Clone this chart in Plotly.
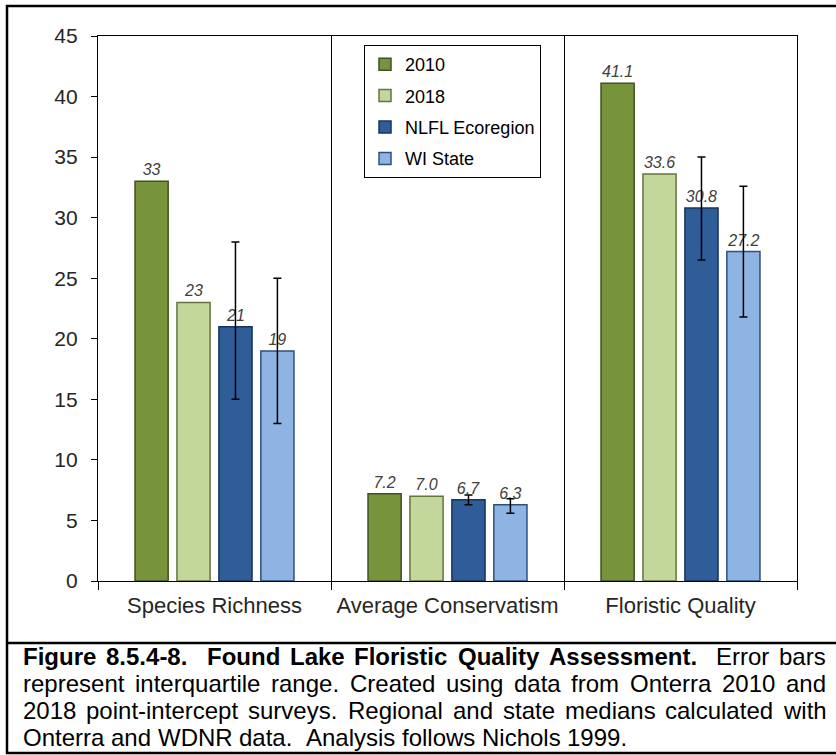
import plotly.graph_objects as go

# ---------------- data ----------------
categories = ["Species Richness", "Average Conservatism", "Floristic Quality"]
series_names = ["2010", "2018", "NLFL Ecoregion", "WI State"]
vals_2010 = [33, 7.2, 41.1]
vals_2018 = [23, 7.0, 33.6]
vals_nlfl = [21, 6.7, 30.8]
vals_wi = [19, 6.3, 27.2]
labels_2010 = ["33", "7.2", "41.1"]
labels_2018 = ["23", "7.0", "33.6"]
labels_nlfl = ["21", "6.7", "30.8"]
labels_wi = ["19", "6.3", "27.2"]
# interquartile ranges (upper / lower quartile)
nlfl_q3 = [28, 7.1, 35.0]
nlfl_q1 = [15, 6.3, 26.5]
wi_q3 = [25, 6.8, 32.6]
wi_q1 = [13, 5.6, 21.8]
y_ticks = [0, 5, 10, 15, 20, 25, 30, 35, 40, 45]

caption_lines = [
    [("Figure", True), ("8.5.4-8.", True), ("", True), ("Found", True), ("Lake", True),
     ("Floristic", True), ("Quality", True), ("Assessment.", True), ("", False),
     ("Error", False), ("bars", False)],
    [(w, False) for w in "represent interquartile range. Created using data from Onterra 2010 and".split(" ")],
    [(w, False) for w in "2018 point-intercept surveys. Regional and state medians calculated with".split(" ")],
    [(w, False) for w in "Onterra and WDNR data.  Analysis follows Nichols 1999.".split(" ")],
]
caption_justify = [True, True, True, False]

# ---------------- styles ----------------
FONT = "Liberation Sans, Arial, sans-serif"
fills = ["#77933C", "#C4D79B", "#2F5D97", "#8DB4E2"]
edges = ["#3F5220", "#66733F", "#16345C", "#2F4F7E"]

W, H = 836, 755
L, R, T, B = 98, 797, 36, 581


def px_x(p):
    return (p - L) / (R - L)


def px_y(p):
    return (B - p) / (B - T)


fig = go.Figure()
all_vals = [vals_2010, vals_2018, vals_nlfl, vals_wi]
all_labels = [labels_2010, labels_2018, labels_nlfl, labels_wi]
errs = [None, None, (nlfl_q3, nlfl_q1, vals_nlfl), (wi_q3, wi_q1, vals_wi)]
for i, name in enumerate(series_names):
    kw = {}
    if errs[i] is not None:
        q3, q1, v = errs[i]
        kw["error_y"] = dict(type="data", symmetric=False,
                             array=[a - b for a, b in zip(q3, v)],
                             arrayminus=[b - a for a, b in zip(q1, v)],
                             color="#000000", thickness=1.5, width=4)
    fig.add_trace(go.Bar(
        name=name, x=categories, y=all_vals[i],
        marker=dict(color=fills[i], line=dict(color=edges[i], width=1.5)),
        text=all_labels[i], textposition="outside", constraintext="none",
        cliponaxis=False,
        textfont=dict(family=FONT, size=16, color="#404040", style="italic"),
        legendgroup=name,
        **kw))

# ---------------- caption layout (justified) ----------------
REG = {' ': 278, 'a': 556, 'b': 556, 'c': 500, 'd': 556, 'e': 556, 'f': 278, 'g': 556, 'h': 556,
       'i': 222, 'j': 222, 'k': 500, 'l': 222, 'm': 833, 'n': 556, 'o': 556, 'p': 556, 'q': 556,
       'r': 333, 's': 500, 't': 278, 'u': 556, 'v': 500, 'w': 722, 'x': 500, 'y': 500, 'z': 500,
       'A': 667, 'B': 667, 'C': 722, 'D': 722, 'E': 667, 'F': 611, 'G': 778, 'H': 722, 'I': 278,
       'J': 500, 'K': 667, 'L': 556, 'M': 833, 'N': 722, 'O': 778, 'P': 667, 'Q': 778, 'R': 722,
       'S': 667, 'T': 611, 'U': 722, 'V': 667, 'W': 944, 'X': 667, 'Y': 667, 'Z': 611,
       '.': 278, ',': 278, '-': 333}
BOLD = {' ': 278, 'a': 556, 'b': 611, 'c': 556, 'd': 611, 'e': 556, 'f': 333, 'g': 611, 'h': 611,
        'i': 278, 'j': 278, 'k': 556, 'l': 278, 'm': 889, 'n': 611, 'o': 611, 'p': 611, 'q': 611,
        'r': 389, 's': 556, 't': 333, 'u': 611, 'v': 556, 'w': 778, 'x': 556, 'y': 556, 'z': 500,
        'A': 722, 'F': 611, 'L': 611, 'Q': 778, 'E': 667, '.': 278, '-': 333}
for d in "0123456789":
    REG[d] = 556
    BOLD[d] = 556

CAP_SIZE = 24
CAP_LEFT, CAP_RIGHT = 22, 825
baselines = [665, 692, 719, 746]


def wwidth(word, bold):
    tbl = BOLD if bold else REG
    return sum(tbl.get(c, 556) for c in word) / 1000.0 * CAP_SIZE


annotations = []
for li, line in enumerate(caption_lines):
    words = line
    total_words = sum(wwidth(w, b) for w, b in words)
    nspaces = len(words) - 1
    if caption_justify[li]:
        gap = (CAP_RIGHT - CAP_LEFT - total_words) / nspaces
    else:
        gap = REG[' '] / 1000.0 * CAP_SIZE
    x = CAP_LEFT
    for w, b in words:
        if w:
            txt = "<b>%s</b>" % w if b else w
            annotations.append(dict(
                text=txt, xref="paper", yref="paper", x=px_x(x - 1), y=px_y(baselines[li] + 7),
                xanchor="left", yanchor="bottom", showarrow=False,
                font=dict(family=FONT, size=CAP_SIZE, color="#000000")))
        x += wwidth(w, b) + gap

shapes = [
    dict(type="rect", xref="paper", yref="paper",
         x0=px_x(7), x1=px_x(850), y0=px_y(753), y1=px_y(6),
         line=dict(color="#000000", width=2.5), layer="below"),
    dict(type="line", xref="paper", yref="paper",
         x0=px_x(7), x1=px_x(850), y0=px_y(643), y1=px_y(643),
         line=dict(color="#000000", width=2.5)),
]

fig.update_layout(
    width=W, height=H,
    margin=dict(l=L, r=W - R, t=T, b=H - B, autoexpand=False),
    paper_bgcolor="#FFFFFF", plot_bgcolor="#FFFFFF",
    barmode="group", bargap=0.28, bargroupgap=0.21,
    font=dict(family=FONT, color="#262626"),
    showlegend=True,
    legend=dict(x=px_x(364), y=px_y(45), xanchor="left", yanchor="top",
                bgcolor="#FFFFFF", bordercolor="#000000", borderwidth=1,
                font=dict(family=FONT, size=18, color="#000000"),
                traceorder="grouped", tracegroupgap=5,
                itemwidth=30),
    annotations=annotations,
    shapes=shapes,
)
fig.update_xaxes(
    type="category", tickson="boundaries", ticks="outside", ticklen=8,
    tickcolor="#000000", showline=True, linecolor="#000000", linewidth=1.2,
    mirror=True, showgrid=True, gridcolor="#000000", gridwidth=1.2,
    tickangle=0, ticklabelstandoff=4,
    tickfont=dict(family=FONT, size=22, color="#262626"),
)
fig.update_yaxes(
    range=[0, 45], tickvals=y_ticks, ticks="outside", ticklen=6,
    tickcolor="#000000", showline=True, linecolor="#000000", linewidth=1.2,
    mirror=True, showgrid=False, zeroline=False, ticklabelstandoff=9,
    tickfont=dict(family=FONT, size=21, color="#262626"),
)

fig.write_html("out.html", config={"displayModeBar": False},
               post_script="document.body.style.margin='0px';document.body.style.overflow='hidden';")
